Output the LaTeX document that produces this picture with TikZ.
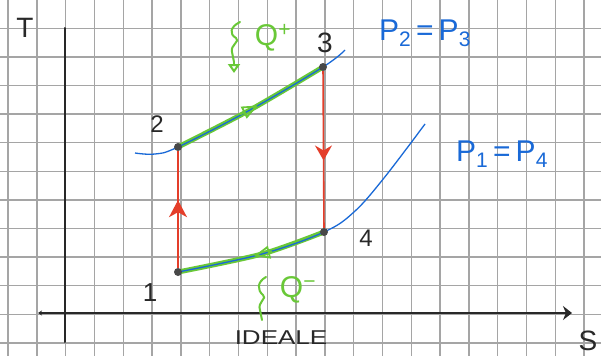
\documentclass[tikz,border=0pt]{standalone}
\usepackage{fontspec}
\setmainfont{Liberation Sans}
\usetikzlibrary{arrows.meta,decorations.markings}
\definecolor{gridc}{RGB}{165,165,165}
\definecolor{penblue}{RGB}{25,105,215}
\definecolor{pengreen}{RGB}{105,200,55}
\definecolor{penred}{RGB}{228,62,42}
\definecolor{penblack}{RGB}{40,40,40}
\begin{document}
\begin{tikzpicture}[x=1pt,y=-1pt,
  gridline/.style={draw=gridc,line width=1.4pt},
  axisline/.style={draw=penblack,line width=2pt,line cap=round},
  statedot/.style={circle,fill=penblack!85,minimum size=8pt,inner sep=0pt},
  isobar/.style={draw=penblue,line width=1.3pt},
  heatline/.style={draw=pengreen,line width=5pt,line cap=round},
  adiab/.style={draw=penred,line width=1.6pt},
  midarrow/.style 2 args={postaction={decorate},decoration={markings,mark=at position #1 with {\arrow{#2}}}},
  lab/.style={text=penblack,inner sep=0pt,font=\fontsize{#1}{#1}\selectfont},
  bluelab/.style={text=penblue,inner sep=0pt,font=\fontsize{30}{30}\selectfont},
  greenlab/.style={text=pengreen,inner sep=0pt,font=\fontsize{#1}{#1}\selectfont},
  greenbrace/.style={draw=pengreen,line width=2pt,line cap=round,line join=round},
  greentip/.style={draw=pengreen,line width=1.8pt,-{Triangle[open,length=16pt,width=13pt]}},
]
\useasboundingbox (0,0) rectangle (601,356);
\fill[white] (0,0) rectangle (601,356);
% grid paper
\foreach \i in {0,...,20} \draw[gridline] ({8+28.8*\i},0) -- ({8+28.8*\i},356);
\foreach \j in {0,...,11} \draw[gridline] (0,{28.3+28.6*\j}) -- (601,{28.3+28.6*\j});
% axes
\coordinate (ytop) at (65,28);
\coordinate (ybot) at (65,342);
\coordinate (xleft) at (38,313);
\coordinate (xright) at (572,313);
\draw[axisline] (ybot) -- (ytop);
\draw[axisline,{Stealth[length=4pt,width=5pt]}-{Stealth[length=9pt,width=14pt]}] (xleft) -- (xright);
\node[lab=28] (tlab) at (25,28) {T};
\node[lab=28] (slab) at (588,341) {S};
\node[lab=20] (ideale) at (281,338) {\scalebox{1.3}[1]{IDEALE}};
% states
\coordinate (c1) at (178,272);
\coordinate (c2) at (178,147);
\coordinate (c3) at (323,67);
\coordinate (c4) at (324,232);
% heat exchange (green)
\draw[heatline] plot[smooth] coordinates {(c2) (250,110) (c3)};
\draw[heatline] plot[smooth] coordinates {(c1) (262,254) (c4)};
% isobars
\draw[isobar] plot[smooth,tension=0.6] coordinates {(135,153) (155,154) (c2) (250,110) (c3) (345,50)};
\draw[isobar] plot[smooth,tension=0.6] coordinates {(c1) (262,254) (c4) (354,212) (384,178) (425,124)};
% arrows on heat lines
\coordinate (ua) at (240,114.5);
\coordinate (ub) at (258,105.5);
\coordinate (la) at (272,251.5);
\coordinate (lb) at (254,256);
\draw[greentip] (ua) -- (ub);
\draw[greentip] (la) -- (lb);
% dots
\node[statedot] (n1) at (c1) {};
\node[statedot] (n2) at (c2) {};
\node[statedot] (n3) at (c3) {};
\node[statedot] (n4) at (c4) {};
% isentropes (red)
\draw[adiab,midarrow={0.58}{Stealth[length=17pt,width=18pt,inset=5pt]}] (n1) -- (n2);
\draw[adiab,midarrow={0.57}{Stealth[length=15pt,width=17pt,inset=5pt]}] (n3) -- (n4);
% state labels
\node[lab=26] (l1) at (150,293) {1};
\node[lab=24] (l2) at (157,124) {2};
\node[lab=28] (l3) at (325,43) {3};
\node[lab=24] (l4) at (366,238) {4};
% pressure labels
\node[bluelab] (pA) at (425,33) {P\textsubscript{2}\,=\,P\textsubscript{3}};
\node[bluelab] (pB) at (502,154) {P\textsubscript{1}\,=\,P\textsubscript{4}};
% heat labels
\coordinate (bq1top) at (240,22);
\coordinate (bq1bot) at (234,62);
\coordinate (bq1tip) at (234,73);
\draw[greenbrace] (bq1top) .. controls (230,27) and (229,34) .. (236,38)
      .. controls (241,41) and (230,45) .. (232,52) -- (bq1bot);
\draw[greenbrace,-{Triangle[open,length=9pt,width=12pt]}] (bq1bot) -- (bq1tip);
\node[greenlab=30] (q1) at (273,38) {Q\textsuperscript{+}};
\coordinate (bq2top) at (266,277);
\coordinate (bq2bot) at (262,320);
\draw[greenbrace] (bq2top) .. controls (257,282) and (257,290) .. (263,295)
      .. controls (268,298) and (257,302) .. (260,310) -- (bq2bot);
\node[greenlab=30] (q2) at (298,290) {Q\textsuperscript{−}};
\end{tikzpicture}
\end{document}
